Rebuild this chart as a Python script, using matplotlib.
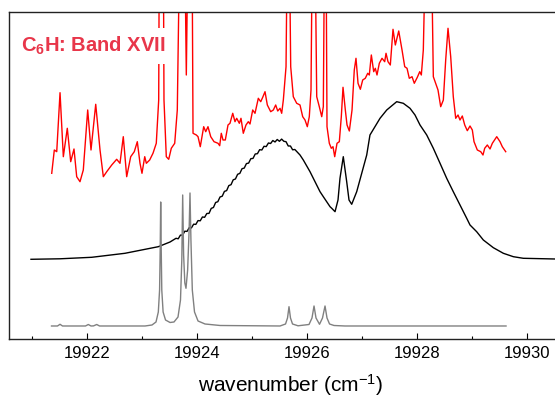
import numpy as np
import matplotlib
matplotlib.use("Agg")
import matplotlib.pyplot as plt
from matplotlib.ticker import MultipleLocator

plt.rcParams["font.family"] = ["Liberation Sans", "DejaVu Sans"]
plt.rcParams["mathtext.fontset"] = "custom"
plt.rcParams["mathtext.rm"] = "Liberation Sans"
plt.rcParams["mathtext.bf"] = "Liberation Sans:bold"
plt.rcParams["mathtext.default"] = "regular"

# wavenumbers are stored as offsets from 19920 cm-1, intensities in arb. units
WN0 = 19920

# experimental spectrum (red); 40 = peak running off the top
exp_x = [1.364, 1.411, 1.455, 1.515, 1.575, 1.647, 1.709, 1.769, 1.818, 1.878,
         1.938, 2.018, 2.078, 2.164, 2.242, 2.302, 2.364, 2.455, 2.545, 2.605,
         2.665, 2.727, 2.800, 2.865, 2.920, 2.969, 3.005, 3.055, 3.084, 3.145,
         3.205, 3.265, 3.309, 3.320, 3.393, 3.405, 3.447, 3.491, 3.538, 3.600,
         3.647, 3.691, 3.782, 3.811, 3.842, 3.915, 3.933, 3.993, 4.024, 4.065,
         4.127, 4.164, 4.205, 4.255, 4.315, 4.387, 4.418, 4.447, 4.478, 4.520,
         4.569, 4.605, 4.655, 4.696, 4.727, 4.775, 4.805, 4.847, 4.896, 4.938,
         4.969, 5.018, 5.060, 5.120, 5.164, 5.200, 5.242, 5.284, 5.345, 5.393,
         5.436, 5.473, 5.515, 5.545, 5.575, 5.624, 5.647, 5.684, 5.709, 5.756,
         5.818, 5.878, 5.927, 5.969, 6.011, 6.047, 6.078, 6.102, 6.151, 6.182,
         6.229, 6.273, 6.302, 6.324, 6.351, 6.369, 6.411, 6.447, 6.478, 6.509,
         6.551, 6.593, 6.629, 6.660, 6.702, 6.733, 6.775, 6.824, 6.865, 6.896,
         6.933, 6.975, 7.018, 7.065, 7.109, 7.138, 7.175, 7.218, 7.247, 7.278,
         7.320, 7.369, 7.418, 7.442, 7.478, 7.520, 7.569, 7.611, 7.673, 7.733,
         7.782, 7.824, 7.865, 7.915, 7.956, 8.011, 8.055, 8.084, 8.120, 8.164,
         8.265, 8.302, 8.356, 8.387, 8.436, 8.484, 8.527, 8.569, 8.618, 8.665,
         8.709, 8.751, 8.787, 8.829, 8.873, 8.920, 8.969, 9.011, 9.042, 9.102,
         9.164, 9.205, 9.236, 9.284, 9.333, 9.375, 9.455, 9.515, 9.556, 9.618]
exp_y = [16.57, 18.90, 18.73, 24.63, 18.23, 21.07, 17.73, 19.00, 16.23, 15.73,
         16.90, 22.90, 18.90, 23.47, 18.90, 16.23, 16.73, 17.40, 17.97, 17.57,
         20.23, 16.23, 18.23, 18.73, 19.73, 17.57, 16.57, 18.23, 17.57, 17.90,
         18.57, 19.57, 23.90, 40.00, 40.00, 23.90, 18.23, 17.97, 19.07, 19.57,
         22.90, 40.00, 40.00, 26.40, 40.00, 40.00, 20.57, 20.40, 20.23, 19.23,
         21.23, 20.73, 21.23, 20.23, 19.73, 19.57, 19.33, 20.57, 19.90, 19.90,
         21.40, 21.57, 22.57, 21.73, 22.07, 21.57, 22.07, 20.57, 21.40, 21.73,
         21.50, 22.90, 22.57, 24.07, 23.73, 24.17, 24.73, 23.40, 22.73, 22.90,
         23.40, 22.80, 23.07, 22.57, 23.90, 27.23, 40.00, 40.00, 27.23, 24.23,
         23.57, 23.40, 22.23, 21.90, 21.23, 22.23, 24.90, 40.00, 40.00, 24.23,
         23.23, 22.23, 23.23, 40.00, 40.00, 21.23, 19.57, 19.07, 19.23, 18.23,
         19.57, 19.73, 22.23, 25.17, 22.90, 21.40, 20.80, 22.90, 26.90, 28.07,
         25.57, 24.97, 25.90, 26.07, 26.57, 26.40, 28.40, 26.73, 27.07, 26.40,
         27.57, 28.07, 27.73, 28.57, 27.73, 27.40, 30.97, 29.40, 30.80, 28.90,
         27.23, 27.07, 26.07, 26.23, 25.57, 26.17, 26.73, 26.40, 28.90, 40.00,
         40.00, 26.23, 25.40, 24.90, 23.23, 23.90, 27.90, 31.07, 28.23, 24.23,
         22.07, 22.40, 21.90, 22.30, 21.40, 20.83, 21.30, 20.90, 19.73, 18.90,
         18.73, 18.40, 19.07, 19.40, 19.00, 19.57, 20.23, 19.73, 19.23, 18.73]

# simulated band contour (black)
sim_x = [0.987, 1.515, 2.091, 2.696, 3.302, 3.515,
         3.624, 3.664, 3.704, 3.744, 3.784, 3.824, 3.864, 3.904, 3.944, 3.984,
         4.024, 4.064, 4.104, 4.144, 4.184, 4.224, 4.264, 4.304, 4.344, 4.384,
         4.424, 4.464, 4.504, 4.544, 4.584, 4.624, 4.664, 4.704, 4.744, 4.784,
         4.824, 4.864, 4.904, 4.944, 4.984, 5.024, 5.064, 5.104, 5.144, 5.184,
         5.224, 5.264, 5.304, 5.344, 5.384, 5.424, 5.464, 5.504, 5.544, 5.584,
         5.624, 5.664, 5.704, 5.744, 5.784,
         5.878, 5.938, 6.060, 6.120, 6.242, 6.302, 6.424, 6.455, 6.515, 6.569,
         6.605, 6.665, 6.727, 6.769, 6.818, 6.909, 7.091, 7.150, 7.333, 7.455,
         7.636, 7.756, 7.878, 7.969, 8.060, 8.182, 8.302, 8.424, 8.545, 8.665,
         8.787, 8.909, 8.969, 9.090, 9.211, 9.393, 9.575, 9.757, 9.938, 10.514,
         10.787]
sim_y = [7.97, 8.02, 8.17, 8.57, 9.23, 9.70,
         10.07, 10.02, 10.39, 10.39, 10.78, 10.76, 11.13, 11.11, 11.48, 11.46,
         11.84, 11.82, 12.20, 12.17, 12.55, 12.56, 13.06, 13.15, 13.65, 13.73,
         14.20, 14.28, 14.76, 14.84, 15.34, 15.43, 15.92, 16.00, 16.47, 16.56,
         17.03, 17.09, 17.54, 17.59, 18.03, 18.06, 18.50, 18.53, 18.93, 18.90,
         19.27, 19.24, 19.60, 19.55, 19.85, 19.70, 19.95, 19.77, 19.99, 19.77,
         19.73, 19.30, 19.30, 18.92, 18.95,
         18.40, 17.90, 16.73, 16.07, 14.73, 14.23, 13.23, 13.07, 12.73, 13.90,
         16.07, 18.23, 15.73, 13.90, 13.47, 14.73, 18.40, 20.40, 22.07, 22.90,
         23.73, 23.57, 23.07, 22.40, 21.40, 20.40, 19.07, 17.57, 16.07, 14.73,
         13.40, 12.07, 11.40, 10.73, 9.90, 9.13, 8.57, 8.23, 8.07, 8.00,
         7.99]

# line spectrum (grey)
line_x = [1.360, 1.469, 1.515, 1.560, 1.978, 2.029, 2.078, 2.124, 2.182, 2.233,
          3.060, 3.187, 3.260, 3.302, 3.325, 3.336, 3.345, 3.355, 3.365, 3.389,
          3.433, 3.515, 3.587, 3.660, 3.705, 3.729, 3.745, 3.762, 3.784, 3.805,
          3.835, 3.862, 3.878, 3.895, 3.920, 3.960, 4.024, 4.151, 4.424, 5.515,
          5.615, 5.651, 5.678, 5.705, 5.742, 5.842, 6.042, 6.096, 6.133, 6.169,
          6.233, 6.287, 6.333, 6.369, 6.415, 6.496, 6.696, 9.624]
line_y = [1.30, 1.30, 1.47, 1.30, 1.30, 1.45, 1.30, 1.31, 1.45, 1.30,
          1.30, 1.40, 1.70, 2.70, 4.90, 8.90, 13.70, 8.90, 4.90, 2.70,
          1.90, 1.65, 1.70, 2.20, 3.90, 7.90, 14.40, 8.40, 5.60, 5.07,
          6.90, 10.90, 14.60, 9.90, 4.90, 2.70, 1.80, 1.50, 1.35, 1.30,
          1.50, 2.10, 3.23, 2.10, 1.50, 1.32, 1.45, 2.10, 3.30, 2.10,
          1.47, 2.10, 3.30, 2.10, 1.50, 1.35, 1.30, 1.30]

fig = plt.figure(figsize=(5.55, 3.99), dpi=100)
ax = fig.add_axes([0.0162, 0.1504, 1.0139, 0.8203])

ax.plot(WN0 + np.array(exp_x), exp_y, color="#ff0000", lw=1.0)
ax.plot(WN0 + np.array(sim_x), sim_y, color="black", lw=1.0)
ax.plot(WN0 + np.array(line_x), line_y, color="#808080", lw=1.0)

ax.set_xlim(19920.587, 19930.818)
ax.set_ylim(0, 32.73)

ax.xaxis.set_major_locator(MultipleLocator(2))
ax.xaxis.set_minor_locator(MultipleLocator(1))
ax.tick_params(axis="x", which="major", direction="in", length=4, width=0.8,
               labelsize=12, pad=5)
ax.tick_params(axis="x", which="minor", direction="in", length=2.4, width=0.8)
ax.set_yticks([])
for side in ["left", "bottom", "top", "right"]:
    ax.spines[side].set_linewidth(1.0)
    ax.spines[side].set_color("#222222")

ax.set_xlabel("wavenumber (cm$^{-1}$)", fontsize=15, labelpad=8)

ax.text(0.0213, 0.877, r"$\mathbf{C_6H}$: Band XVII", transform=ax.transAxes,
        fontsize=14.5, fontweight="bold", color="#e8364a", va="baseline",
        bbox=dict(facecolor="white", edgecolor="none", pad=5))

fig.savefig("out.png", dpi=100)
